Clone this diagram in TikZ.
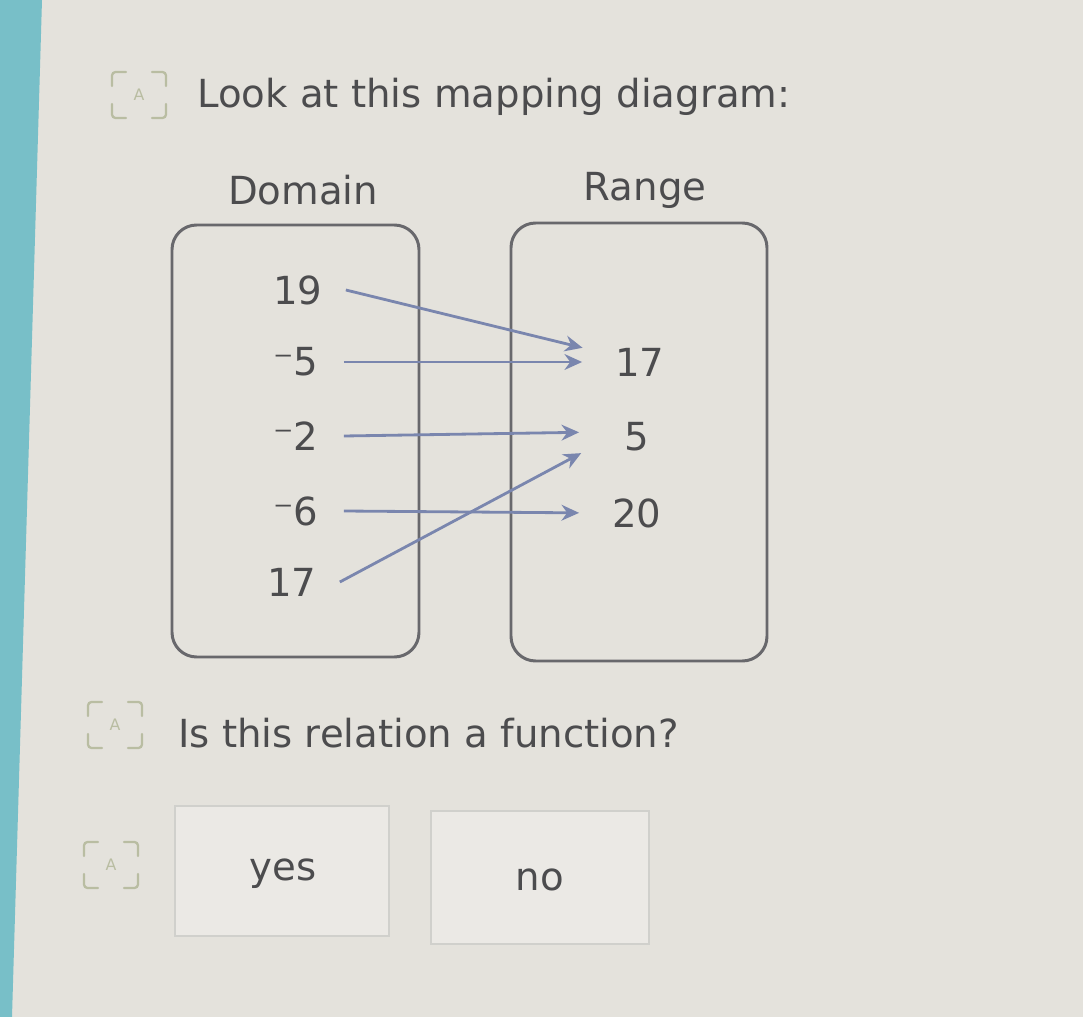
\documentclass[tikz,border=0pt]{standalone}
\usepackage{fontspec}
\setmainfont{DejaVu Sans}
\usetikzlibrary{arrows.meta}

\definecolor{screenbg}{HTML}{E4E2DC}
\definecolor{screenedge}{HTML}{78BFC8}
\definecolor{inkgrey}{HTML}{4C4C4E}
\definecolor{boxgrey}{HTML}{68686C}
\definecolor{arrowblue}{HTML}{7A86AE}
\definecolor{icongreen}{HTML}{B9BDA2}
\definecolor{buttonline}{HTML}{D0D0CC}

\tikzset{
  txt/.style={text=inkgrey, inner sep=0pt, font=\fontsize{22}{26}\selectfont},
  val/.style={txt, minimum width=1.9cm},
  rval/.style={txt, minimum width=1.6cm},
  setbox/.style={draw=boxgrey, line width=1.7pt, rounded corners=14pt},
  maparrow/.style={draw=arrowblue, line width=1.6pt, -{Stealth[length=10pt, width=9pt]}, shorten >=10pt},
  answer/.style={draw=buttonline, line width=1pt, fill=screenbg!75!white},
  corner/.style={draw=icongreen, line width=1.3pt, line cap=round, rounded corners=2pt}
}

\begin{document}
\begin{tikzpicture}[x=0.02cm, y=-0.02cm]
  \useasboundingbox (0,0) rectangle (1083,1017);
  \fill[screenbg] (0,0) rectangle (1083,1017);
  \fill[screenedge] (0,0) -- (42,0) -- (12,1017) -- (0,1017) -- cycle;

  % read-aloud icons
  \foreach \ix/\iy in {112/72, 88/702, 84/842} {
    \draw[corner] (\ix,\iy+14) -- (\ix,\iy) -- (\ix+14,\iy);
    \draw[corner] (\ix+40,\iy) -- (\ix+54,\iy) -- (\ix+54,\iy+14);
    \draw[corner] (\ix,\iy+32) -- (\ix,\iy+46) -- (\ix+14,\iy+46);
    \draw[corner] (\ix+40,\iy+46) -- (\ix+54,\iy+46) -- (\ix+54,\iy+32);
    \node[text=icongreen, font=\fontsize{9}{10}\selectfont] at (\ix+27,\iy+23) {A};
  }

  \node[txt, anchor=west] (intro) at (197,97) {Look at this mapping diagram:};

  % the two sets
  \node[txt] (domain) at (303,190) {Domain};
  \node[txt] (range) at (645,190) {Range};
  \draw[setbox] (172,225) rectangle (419,657);
  \draw[setbox] (511,223) rectangle (767,661);

  \node[val] (d19) at (298,290) {19};
  \node[val] (dm5) at (296,362) {⁻5};
  \node[val] (dm2) at (296,436) {⁻2};
  \node[val] (dm6) at (296,511) {⁻6};
  \node[val] (d17) at (292,582) {17};

  \node[rval] (r17) at (640,362) {17};
  \node[rval] (r5) at (637,437) {5};
  \node[rval] (r20) at (637,513) {20};

  \draw[maparrow] (d19.east) -- (r17.166);
  \draw[maparrow] (dm5.east) -- (r17.west);
  \draw[maparrow] (dm2.east) -- (r5.173);
  \draw[maparrow] (dm6.east) -- (r20.west);
  \draw[maparrow] (d17.east) -- (r5.191);

  \node[txt, anchor=west] (question) at (178,733) {Is this relation a function?};

  % answer buttons
  \draw[answer] (175,806) rectangle (389,936);
  \draw[answer] (431,811) rectangle (649,944);
  \node[txt] (yes) at (283,874) {yes};
  \node[txt] (no) at (540,880) {no};
\end{tikzpicture}
\end{document}
